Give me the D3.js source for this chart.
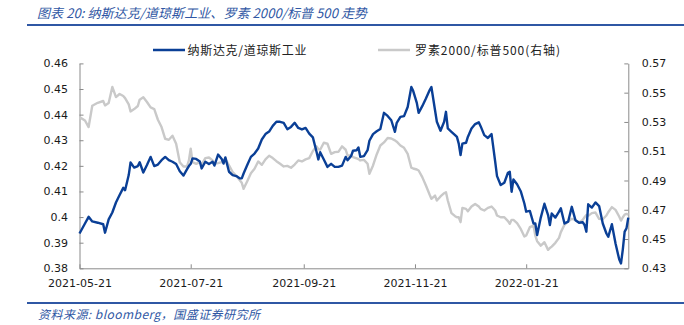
<!DOCTYPE html>
<html>
<head>
<meta charset="utf-8">
<script src="https://cdn.jsdelivr.net/npm/d3@7"></script>
<style>
  html, body { margin: 0; padding: 0; background: #fff; }
  svg { display: block; }
</style>
</head>
<body>
<svg id="chart" width="684" height="325"></svg>
<script>
const dates = [
"2021-05-21","2021-05-24","2021-05-26","2021-05-28","2021-05-31","2021-06-03","2021-06-04","2021-06-06","2021-06-08","2021-06-10","2021-06-12","2021-06-14","2021-06-15","2021-06-17","2021-06-18","2021-06-20","2021-06-22","2021-06-23","2021-06-25","2021-06-27","2021-06-29","2021-07-01","2021-07-03","2021-07-05","2021-07-07","2021-07-09","2021-07-11","2021-07-13","2021-07-15","2021-07-17","2021-07-19","2021-07-20",
"2021-07-21","2021-07-22","2021-07-24","2021-07-26","2021-07-27","2021-07-29","2021-07-31","2021-08-02","2021-08-03","2021-08-05","2021-08-07","2021-08-08","2021-08-09","2021-08-11","2021-08-13","2021-08-15","2021-08-17","2021-08-18","2021-08-19","2021-08-21","2021-08-23","2021-08-25","2021-08-27","2021-08-29","2021-08-31","2021-09-02","2021-09-04","2021-09-06","2021-09-08","2021-09-10","2021-09-12","2021-09-14","2021-09-16","2021-09-18",
"2021-09-20","2021-09-22","2021-09-24","2021-09-26","2021-09-28","2021-09-29","2021-09-30","2021-10-02","2021-10-04","2021-10-06","2021-10-08","2021-10-10","2021-10-12","2021-10-14","2021-10-15","2021-10-17","2021-10-18","2021-10-20","2021-10-21","2021-10-22","2021-10-24","2021-10-26","2021-10-27","2021-10-29","2021-10-31","2021-11-02","2021-11-04","2021-11-06","2021-11-08","2021-11-10","2021-11-11","2021-11-13","2021-11-15","2021-11-17",
"2021-11-19","2021-11-20","2021-11-22","2021-11-23","2021-11-25","2021-11-27","2021-11-29","2021-11-30","2021-12-02","2021-12-03","2021-12-05","2021-12-07","2021-12-08","2021-12-09","2021-12-11","2021-12-13","2021-12-14","2021-12-15","2021-12-16","2021-12-17","2021-12-19","2021-12-20","2021-12-22","2021-12-24","2021-12-26","2021-12-27","2021-12-29","2021-12-31","2022-01-02","2022-01-04","2022-01-05","2022-01-07","2022-01-09","2022-01-11","2022-01-12","2022-01-13","2022-01-14","2022-01-16",
"2022-01-18","2022-01-20","2022-01-21","2022-01-23","2022-01-25","2022-01-26","2022-01-27","2022-01-29","2022-01-31","2022-02-02","2022-02-03","2022-02-04","2022-02-06","2022-02-08","2022-02-09","2022-02-11","2022-02-13","2022-02-15","2022-02-17","2022-02-19","2022-02-21","2022-02-22","2022-02-23","2022-02-24","2022-02-26","2022-02-28","2022-03-02","2022-03-04","2022-03-06","2022-03-07","2022-03-09","2022-03-11","2022-03-13","2022-03-14","2022-03-15","2022-03-16","2022-03-17","2022-03-18"
];

// 纳斯达克/道琼斯工业 (left axis)
const nasdaqDow = [
0.3936,0.3975,0.4001,0.3983,0.3978,0.3972,0.3939,0.3991,0.4018,0.4057,0.4086,0.4114,0.4105,0.4164,0.4213,0.4193,0.4199,0.4214,0.4174,0.4203,0.4235,0.4199,0.4205,0.4222,0.4235,0.4222,0.4216,0.4207,0.4179,0.4162,0.4187,0.4199,
0.4208,0.4229,0.4227,0.4217,0.4190,0.4216,0.4207,0.4216,0.4201,0.4244,0.4227,0.4209,0.4233,0.4177,0.4164,0.4160,0.4151,0.4151,0.4170,0.4203,0.4235,0.4248,0.4268,0.4303,0.4324,0.4334,0.4356,0.4372,0.4372,0.4368,0.4343,0.4352,0.4368,0.4348,
0.4342,0.4348,0.4326,0.4311,0.4255,0.4225,0.4253,0.4225,0.4196,0.4208,0.4196,0.4196,0.4201,0.4235,0.4222,0.4239,0.4259,0.4261,0.4272,0.4235,0.4238,0.4261,0.4298,0.4324,0.4335,0.4344,0.4407,0.4395,0.4378,0.4333,0.4368,0.4391,0.4394,0.4430,
0.4508,0.4493,0.4446,0.4407,0.4433,0.4463,0.4495,0.4508,0.4417,0.4372,0.4337,0.4372,0.4411,0.4346,0.4333,0.4320,0.4313,0.4287,0.4242,0.4287,0.4290,0.4313,0.4346,0.4363,0.4370,0.4355,0.4320,0.4309,0.4324,0.4216,0.4160,0.4125,0.4134,0.4173,0.4177,0.4099,0.4147,0.4128,
0.4101,0.4053,0.4021,0.4024,0.3975,0.3975,0.3930,0.3998,0.4052,0.4008,0.3969,0.4014,0.3998,0.4021,0.4034,0.3975,0.3982,0.4040,0.3988,0.3978,0.3980,0.3969,0.3943,0.4050,0.4037,0.4057,0.4043,0.3975,0.3936,0.3923,0.3972,0.3897,0.3835,0.3819,0.3874,0.3943,0.3956,0.3998
];

// 罗素2000/标普500 (right axis)
const russellSP = [
0.5333,0.5310,0.5265,0.5411,0.5431,0.5443,0.5413,0.5429,0.5539,0.5470,0.5491,0.5477,0.5463,0.5420,0.5372,0.5388,0.5409,0.5452,0.5468,0.5436,0.5399,0.5388,0.5315,0.5265,0.5185,0.5178,0.5206,0.5151,0.5025,0.4996,0.4996,0.5037,
0.5117,0.5025,0.5014,0.5025,0.5007,0.5053,0.5057,0.5037,0.5014,0.5019,0.5025,0.5037,0.5048,0.5003,0.4957,0.4932,0.4900,0.4884,0.4843,0.4895,0.4950,0.4980,0.5030,0.5007,0.5044,0.5069,0.5053,0.5032,0.5014,0.4996,0.5000,0.4987,0.5009,0.5037,
0.5030,0.5044,0.5053,0.5101,0.5133,0.5114,0.5110,0.5158,0.5151,0.5082,0.5094,0.5096,0.5133,0.5110,0.5071,0.5071,0.5060,0.5051,0.5046,0.5037,0.5041,0.5014,0.4946,0.5003,0.5078,0.5139,0.5160,0.5190,0.5187,0.5174,0.5165,0.5139,0.5123,0.5082,
0.4987,0.4982,0.4975,0.4968,0.4923,0.4866,0.4804,0.4775,0.4797,0.4763,0.4791,0.4813,0.4820,0.4763,0.4677,0.4656,0.4649,0.4649,0.4615,0.4713,0.4706,0.4690,0.4722,0.4740,0.4722,0.4706,0.4695,0.4713,0.4722,0.4695,0.4661,0.4649,0.4649,0.4622,0.4604,0.4631,0.4631,0.4608,
0.4569,0.4517,0.4524,0.4581,0.4592,0.4524,0.4485,0.4455,0.4478,0.4426,0.4439,0.4448,0.4474,0.4508,0.4547,0.4597,0.4620,0.4638,0.4631,0.4613,0.4631,0.4649,0.4665,0.4658,0.4677,0.4681,0.4638,0.4635,0.4661,0.4683,0.4718,0.4699,0.4654,0.4626,0.4649,0.4667,0.4672,0.4667
];

const xTickLabels = ["2021-05-21","2021-07-21","2021-09-21","2021-11-21","2022-01-21"];
const leftTicks = [0.38,0.39,0.40,0.41,0.42,0.43,0.44,0.45,0.46];
const rightTicks = [0.43,0.45,0.47,0.49,0.51,0.53,0.55,0.57];
const seriesNames = ["纳斯达克/道琼斯工业","罗素2000/标普500(右轴)"];
const titleText = "图表 20:  纳斯达克/道琼斯工业、罗素 2000/标普 500 走势";
const sourceText = "资料来源:  bloomberg，国盛证券研究所";

const parse = d3.utcParse("%Y-%m-%d");
const dateObjs = dates.map(parse);

const svg = d3.select("#chart");
svg.append("rect").attr("width", 684).attr("height", 325).attr("fill", "#fff");

const plot = { left: 79.5, right: 628.3, top: 63.4, bottom: 268.3 };
const BLUE = "#0a3f96";
const GRAY = "#c9c9c9";
const AXIS = "#8a8a8a";
const HEAD = "#2f57a4";

const x = d3.scaleUtc()
  .domain([parse("2021-05-21"), parse("2022-03-18")])
  .range([plot.left, plot.right]);
const yL = d3.scaleLinear().domain([0.38, 0.46]).range([plot.bottom, plot.top]);
const yR = d3.scaleLinear().domain([0.43, 0.57]).range([plot.bottom, plot.top]);

// Title
svg.append("text")
  .attr("x", 37).attr("y", 17.5)
  .attr("font-family", "'Noto Sans CJK SC', sans-serif")
  .attr("font-size", 13).attr("font-style", "italic")
  .attr("fill", HEAD)
  .attr("textLength", 330).attr("lengthAdjust", "spacing")
  .text(titleText);
svg.append("line").attr("x1", 27).attr("x2", 684).attr("y1", 25).attr("y2", 25)
  .attr("stroke", HEAD).attr("stroke-width", 2.2);

// Legend
const legend = [
  { name: seriesNames[0], color: BLUE, x1: 153, x2: 185, tx: 187.5, tw: 119 },
  { name: seriesNames[1], color: GRAY, x1: 378, x2: 410, tx: 415, tw: 145 }
];
legend.forEach(l => {
  svg.append("line").attr("x1", l.x1).attr("x2", l.x2).attr("y1", 50).attr("y2", 50)
    .attr("stroke", l.color).attr("stroke-width", 2.5);
  svg.append("text").attr("x", l.tx).attr("y", 54.5)
    .attr("font-family", "'Noto Sans CJK SC', sans-serif").attr("font-size", 12)
    .attr("fill", "#222")
    .attr("textLength", l.tw).attr("lengthAdjust", "spacing")
    .text(l.name);
});

// Axes
function styleAxis(g) {
  g.select(".domain").attr("stroke", AXIS).attr("stroke-width", 1);
  g.selectAll(".tick line").attr("stroke", AXIS);
  g.selectAll(".tick text").attr("fill", "#1a1a1a")
    .attr("font-family", "'DejaVu Sans', Verdana, sans-serif").attr("font-size", 11);
}

svg.append("g").attr("transform", `translate(${plot.left},0)`)
  .call(d3.axisLeft(yL).tickValues(leftTicks).tickSizeInner(-4).tickSizeOuter(0)
    .tickPadding(11.5).tickFormat(d => String(+d.toFixed(2))))
  .call(styleAxis);

svg.append("g").attr("transform", `translate(${plot.right},0)`)
  .call(d3.axisRight(yR).tickValues(rightTicks).tickSizeInner(-4).tickSizeOuter(0)
    .tickPadding(13.4).tickFormat(d3.format(".2f")))
  .call(styleAxis);

svg.append("g").attr("transform", `translate(0,${plot.bottom})`)
  .call(d3.axisBottom(x).tickValues(xTickLabels.map(parse)).tickSizeInner(-4).tickSizeOuter(0)
    .tickPadding(10.5).tickFormat(d3.utcFormat("%Y-%m-%d")))
  .call(styleAxis);

// Lines
const lineL = d3.line().x((d, i) => x(dateObjs[i])).y(d => yL(d));
const lineR = d3.line().x((d, i) => x(dateObjs[i])).y(d => yR(d));

svg.append("path").datum(russellSP).attr("d", lineR)
  .attr("fill", "none").attr("stroke", GRAY).attr("stroke-width", 2.4)
  .attr("stroke-linejoin", "round");
svg.append("path").datum(nasdaqDow).attr("d", lineL)
  .attr("fill", "none").attr("stroke", BLUE).attr("stroke-width", 2.4)
  .attr("stroke-linejoin", "round");

// Footer
svg.append("line").attr("x1", 27).attr("x2", 684).attr("y1", 303).attr("y2", 303)
  .attr("stroke", HEAD).attr("stroke-width", 2);
svg.append("text").attr("x", 38).attr("y", 319)
  .attr("font-family", "'Noto Sans CJK SC', sans-serif").attr("font-size", 12)
  .attr("font-style", "italic").attr("fill", HEAD)
  .attr("textLength", 222).attr("lengthAdjust", "spacing")
  .text(sourceText);
</script>
</body>
</html>
